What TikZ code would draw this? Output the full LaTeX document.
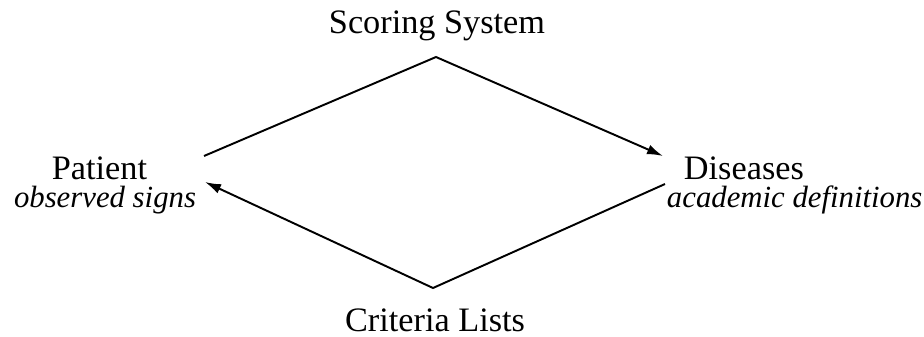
\documentclass[tikz,border=0pt]{standalone}
\usepackage{fontspec}
\setmainfont{Liberation Serif}
\usetikzlibrary{calc,arrows.meta}

\begin{document}
\begin{tikzpicture}[>={Latex[length=3.2mm,width=2mm]},line width=1.1pt,inner sep=0pt,font=\fontsize{19.5}{22}\selectfont]
        \useasboundingbox (0,0) rectangle (18.48,-6.72);
        \node (score) at (8.74,-.66) [anchor=base] {Scoring System};
        \node (crit) at (8.70,-6.62) [anchor=base] {Criteria Lists};
        \node (pat) at (1.99,-3.58) [anchor=base] {Patient};
        \node (obs) at ($(pat.base)+(.11,-.56)$) [anchor=base,font=\fontsize{17.5}{20}\selectfont\itshape] {observed signs};
        \node (dis) at (13.66,-3.58) [anchor=base west] {Diseases};
        \node (acad) at ($(dis.base west)+(-.34,-.56)$) [anchor=base west,font=\fontsize{17.5}{20}\selectfont\itshape] {academic definitions};
        \draw [->] ($(pat.base)+(2.09,.46)$) -- ($(score.base)+(-.02,-.48)$) -- ($(dis.base west)+(-.40,.46)$);
        \draw [->] ($(dis.base west)+(-.36,-.10)$) -- ($(crit.base)+(-.04,.86)$) -- ($(pat.base)+(2.11,-.06)$);
    \end{tikzpicture}
\end{document}
